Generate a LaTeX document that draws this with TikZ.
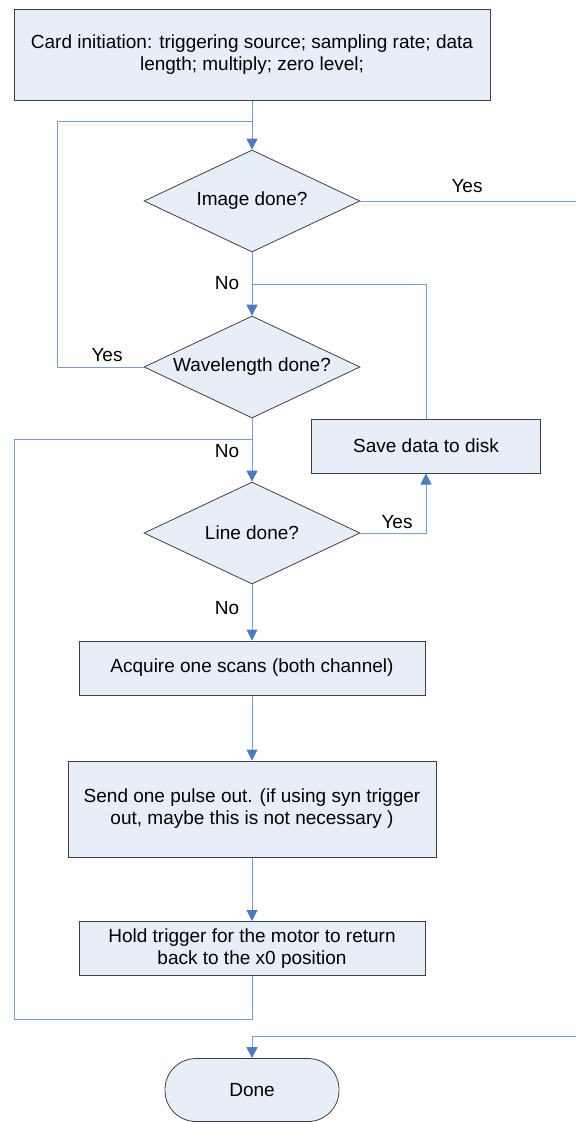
\documentclass[tikz,border=0pt]{standalone}
\usepackage{fontspec}
\setmainfont{Liberation Sans}
\usetikzlibrary{arrows.meta,shapes.geometric}
\definecolor{linkblue}{HTML}{7A9DD4}
\definecolor{tipblue}{HTML}{4A7CC1}
\definecolor{boxbg}{HTML}{E8EEF8}
\definecolor{boxborder}{HTML}{404040}

\begin{document}
\begin{tikzpicture}[
  x=1pt, y=-1pt,
  font=\fontsize{19}{22}\selectfont,
  box/.style={draw=boxborder,fill=boxbg,line width=1pt,
    align=center,inner sep=0pt},
  decision/.style={diamond,draw=boxborder,fill=boxbg,line width=0.8pt,
    align=center,inner sep=0pt,aspect=2,minimum width=216,minimum height=102},
  terminal/.style={draw=boxborder,fill=boxbg,line width=0.8pt,
    rounded corners=31pt,minimum width=174,minimum height=63,inner sep=0pt},
  ln/.style={linkblue,line width=1pt},
  ar/.style={-{Triangle[length=11pt,width=11pt,color=tipblue]},linkblue,line width=1pt},
  lbl/.style={inner sep=0pt}
]
\useasboundingbox (0,0) rectangle (576,1122);

\node[box, minimum width=476, minimum height=91] (init) at (252,54.5)
  {Card initiation: triggering source; sampling rate; data\\length; multiply; zero level;};

\node[decision] (img_done) at (252,201) {Image done?};
\node[decision] (wl_done) at (252,367) {Wavelength done?};
\node[decision] (line_done) at (252,533) {Line done?};

\node[box, minimum width=229, minimum height=54] (save) at (426,446) {Save data to disk};
\node[box, minimum width=346, minimum height=54] (acquire) at (252,668) {Acquire one scans (both channel)};
\node[box, minimum width=368, minimum height=96] (pulse) at (252,809)
  {Send one pulse out. (if using syn trigger\\out, maybe this is not necessary )};
\node[box, minimum width=346, minimum height=54] (hold) at (252,948.5)
  {Hold trigger for the motor to return\\back to the x0 position};

\node[terminal] (done) at (252,1090) {Done};

% junctions and free ends
\coordinate (img_join) at (252,121);
\coordinate (img_loop) at (57,121);
\coordinate (wl_join) at (252,284);
\coordinate (line_join) at (252,439);
\coordinate (line_loop) at (14,1019);
\coordinate (yes_out) at (576,201);
\coordinate (done_in) at (576,1036);

% main flow
\draw[ar] (init) -- (img_done);
\draw[ar] (img_done) -- (wl_done);
\draw[ar] (wl_done) -- (line_done);
\draw[ar] (line_done) -- (acquire);
\draw[ar] (acquire) -- (pulse);
\draw[ar] (pulse) -- (hold);

% loops
\draw[ln] (wl_done.west) -| (img_loop) -- (img_join);
\draw[ln] (save.north) |- (wl_join);
\draw[ar] (line_done.east) -| (save.south);
\draw[ln] (hold.south) |- (line_loop) |- (line_join);
\draw[ln] (img_done.east) -- (yes_out);
\draw[ar] (done_in) -| (done.north);

% labels
\node[lbl] (yes_img) at (467,186) {Yes};
\node[lbl] (no_img) at (227,283) {No};
\node[lbl] (yes_wl) at (107,355) {Yes};
\node[lbl] (no_wl) at (227,451) {No};
\node[lbl] (yes_line) at (397,522) {Yes};
\node[lbl] (no_line) at (227,608) {No};

\end{tikzpicture}
\end{document}
